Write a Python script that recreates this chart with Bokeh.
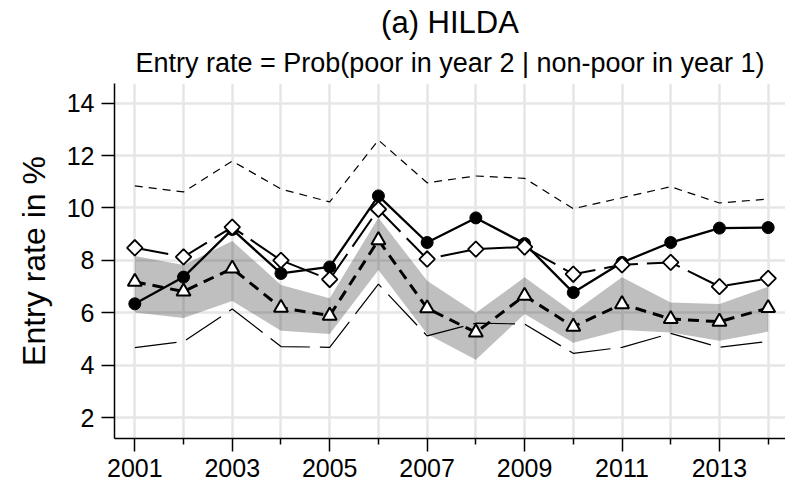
import numpy as np
from bokeh.plotting import figure
from bokeh.models import Range1d, FixedTicker, Title, ColumnDataSource
from bokeh.embed import file_html
from bokeh.resources import INLINE

years = list(range(2001, 2015))
entry_circle = [6.34, 7.36, 9.18, 7.50, 7.75, 10.46, 8.68, 9.62, 8.64, 6.77, 7.92, 8.68, 9.23, 9.25]
entry_diamond = [8.48, 8.13, 9.27, 8.00, 7.27, 9.95, 8.05, 8.43, 8.51, 7.47, 7.83, 7.92, 7.00, 7.31]
entry_triangle = [7.18, 6.81, 7.69, 6.19, 5.89, 8.77, 6.17, 5.25, 6.65, 5.47, 6.33, 5.76, 5.66, 6.18]
band_upper = [8.17, 7.82, 8.74, 7.06, 6.55, 9.63, 7.22, 6.00, 7.35, 6.01, 7.35, 6.39, 6.33, 6.99]
band_lower = [6.01, 5.80, 6.45, 5.31, 5.19, 7.63, 5.19, 4.21, 5.95, 4.85, 5.34, 5.25, 4.93, 5.28]
upper_thin = [10.84, 10.61, 11.79, 10.72, 10.23, 12.59, 10.96, 11.22, 11.13, 9.97, 10.39, 10.81, 10.19, 10.34]
lower_thin = [4.67, 4.90, 6.14, 4.71, 4.68, 7.09, 5.12, 5.60, 5.57, 4.45, 4.68, 5.21, 4.68, 4.91]

x_major = [2001, 2003, 2005, 2007, 2009, 2011, 2013]
x_minor = [2002, 2004, 2006, 2008, 2010, 2012, 2014]
y_ticks = [2, 4, 6, 8, 10, 12, 14]

title_text = "(a) HILDA"
subtitle_text = "Entry rate = Prob(poor in year 2 | non-poor in year 1)"
ylabel = "Entry rate in %"

FONT = "Liberation Sans"

p = figure(width=785, height=489, output_backend="svg", toolbar_location=None,
           x_range=Range1d(2000.583, 2014.356), y_range=Range1d(1.2, 14.75),
           min_border_left=114, min_border_right=0, min_border_top=83, min_border_bottom=51)
p.outline_line_color = None
p.background_fill_color = "white"
p.border_fill_color = "white"

# titles (p.title is outermost, added Title sits closer to the frame)
p.title.text = title_text
p.title.align = "center"
p.title.text_font = FONT
p.title.text_font_size = "31px"
p.title.text_font_style = "normal"
p.title.text_color = "black"
p.title.standoff = 2
p.add_layout(Title(text=subtitle_text, align="center", text_font=FONT, text_font_size="27px",
                   text_font_style="normal", text_color="black", standoff=11), "above")

# axes
p.xaxis.ticker = FixedTicker(ticks=x_major, minor_ticks=x_minor)
p.yaxis.ticker = FixedTicker(ticks=y_ticks)
for ax in (p.xaxis[0], p.yaxis[0]):
    ax.axis_line_color = "black"
    ax.axis_line_width = 1.5
    ax.major_tick_line_color = "black"
    ax.major_tick_line_width = 1.5
    ax.major_tick_in = 0
    ax.major_tick_out = 13
    ax.major_label_text_font = FONT
    ax.major_label_text_font_size = "25px"
    ax.major_label_text_color = "black"
    ax.major_label_standoff = 7
p.xaxis.minor_tick_line_color = "black"
p.xaxis.minor_tick_line_width = 1.5
p.xaxis.minor_tick_in = 0
p.xaxis.minor_tick_out = 6
p.yaxis.minor_tick_line_color = None
p.yaxis.axis_label = ylabel
p.yaxis.axis_label_text_font = FONT
p.yaxis.axis_label_text_font_size = "32px"
p.yaxis.axis_label_text_font_style = "normal"
p.yaxis.axis_label_text_color = "black"
p.yaxis.axis_label_standoff = 12

# grid
grid_color = "#e6e6e6"
p.xgrid.grid_line_color = grid_color
p.xgrid.grid_line_width = 2.5
p.xgrid.minor_grid_line_color = grid_color
p.xgrid.minor_grid_line_width = 2.5
p.ygrid.grid_line_color = grid_color
p.ygrid.grid_line_width = 2.5

src = ColumnDataSource(dict(x=years, c=entry_circle, d=entry_diamond, t=entry_triangle,
                            lo=band_lower, hi=band_upper, up=upper_thin, low=lower_thin))

# band
p.varea(x="x", y1="lo", y2="hi", source=src, fill_color="black", fill_alpha=0.25)

# thin lines
p.line("x", "up", source=src, line_color="black", line_width=1.2, line_dash="8 6")
p.line("x", "low", source=src, line_color="black", line_width=1.2, line_dash="42 10")

# circles
p.line("x", "c", source=src, line_color="black", line_width=2.3)
p.scatter("x", "c", source=src, marker="circle", size=12, fill_color="black", line_color="black")

# triangles
p.line("x", "t", source=src, line_color="black", line_width=3, line_dash="11 7")
p.scatter("x", "t", source=src, marker="triangle", size=14, fill_color="white",
          line_color="black", line_width=2)

# diamonds
p.line("x", "d", source=src, line_color="black", line_width=2, line_dash="34 9")
p.scatter("x", "d", source=src, marker="square", angle=np.pi / 4, size=11, fill_color="white",
          line_color="black", line_width=1.8)

open("out.html", "w").write(file_html(p, INLINE))
